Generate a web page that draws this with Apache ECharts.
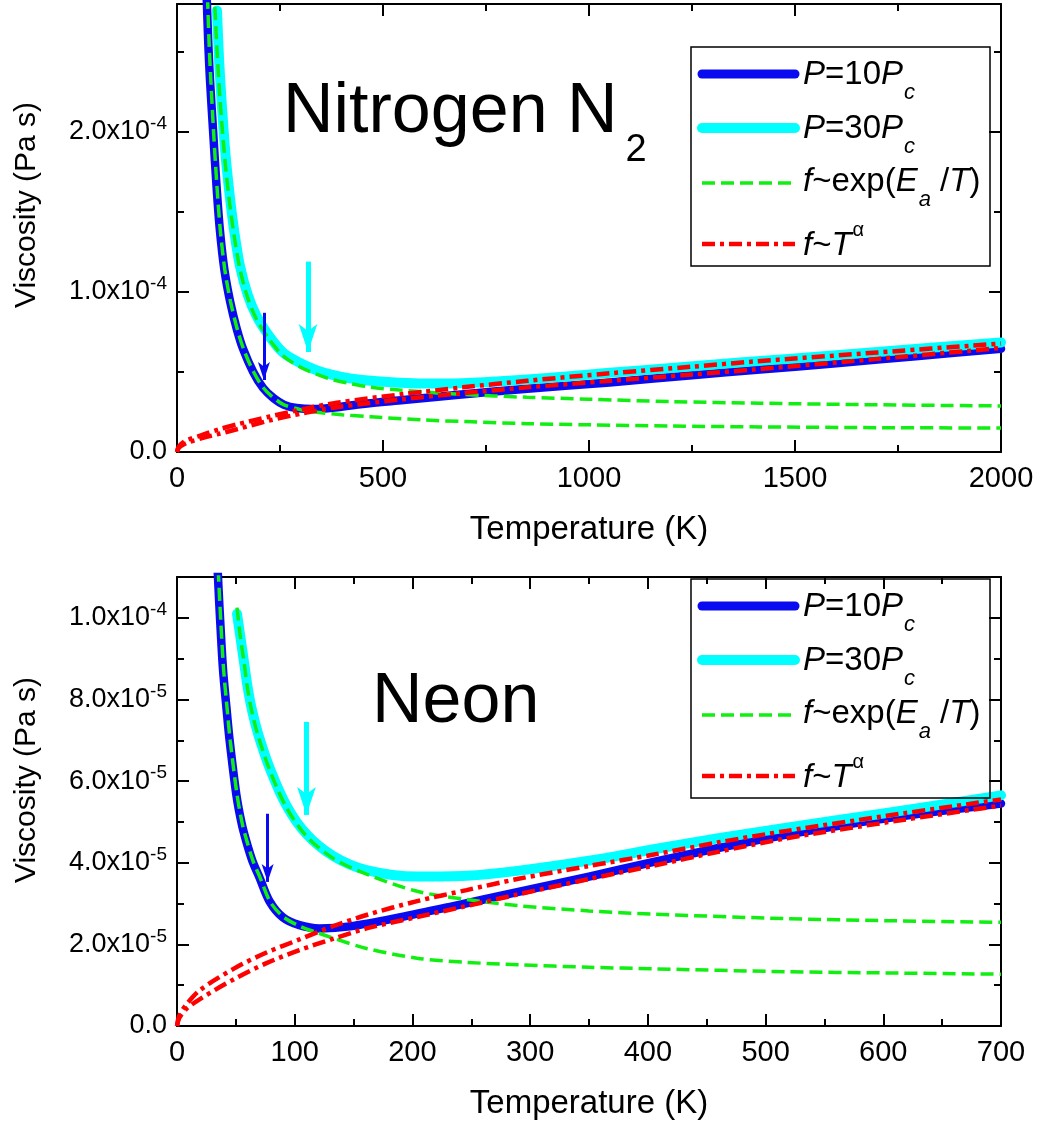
<!DOCTYPE html>
<html><head><meta charset="utf-8">
<script src="https://cdn.jsdelivr.net/npm/echarts/dist/echarts.min.js"></script>
<style>html,body{margin:0;padding:0;background:#fff}#c{width:1039px;height:1124px}</style>
</head><body><div id="c"></div>
<script>
// Temperature in K, viscosity in units of 1e-5 Pa s
const n2_P10 = [[72,28.5],[76,25.5],[80,23.3],[88,19.9],[96,16.6],[104,13.9],[115,11.4],[129,9.4],[145,7.7],[161,6.4],[185,5.0],[209,4.0],[235,3.35],[260,2.95],[290,2.75],[330,2.68],[390,2.8],[450,3.0],[550,3.25],[690,3.6],[850,3.95],[1050,4.35],[1250,4.8],[1415,5.15],[1600,5.55],[1800,6.0],[2000,6.45]];
const n2_P30 = [[97,27.6],[102,24.6],[108,22.0],[118,18.5],[129,15.8],[140,13.6],[153,11.6],[172,9.8],[193,8.5],[225,7.2],[258,6.2],[300,5.55],[340,5.1],[380,4.8],[420,4.6],[470,4.45],[540,4.33],[600,4.28],[665,4.28],[785,4.42],[900,4.62],[1050,4.95],[1200,5.25],[1366,5.6],[1500,5.85],[1700,6.25],[2000,6.85]];
const n2_exp10 = [[74,28.5],[78,25.5],[82,23.3],[89,19.9],[97,16.6],[105,13.9],[116,11.4],[130,9.4],[146,7.7],[162,6.4],[186,5.0],[210,4.0],[236,3.35],[260,2.95],[300,2.65],[350,2.45],[400,2.33],[470,2.2],[600,2.0],[700,1.9],[850,1.77],[1000,1.7],[1200,1.62],[1415,1.57],[1700,1.52],[2000,1.5]];
const n2_exp30 = [[92,27.8],[97,25.2],[102,23.0],[108,20.8],[118,17.8],[129,15.3],[140,13.3],[153,11.4],[172,9.6],[193,8.3],[225,7.0],[258,6.0],[300,5.3],[340,4.85],[380,4.5],[420,4.28],[470,4.05],[540,3.87],[600,3.75],[690,3.6],[850,3.42],[1000,3.3],[1200,3.15],[1415,3.05],[1700,2.95],[2000,2.88]];
const n2_pow10 = [[0,0],[3,0.2],[10,0.38],[25,0.58],[63,0.88],[100,1.12],[145,1.42],[226,1.98],[306,2.42],[388,2.8],[549,3.3],[694,3.68],[850,4.04],[1051,4.45],[1250,4.85],[1398,5.15],[1700,5.82],[2000,6.5]];
const n2_pow30 = [[0,0],[3,0.28],[10,0.5],[25,0.75],[63,1.08],[100,1.4],[145,1.72],[226,2.22],[306,2.68],[388,3.08],[549,3.62],[694,4.04],[850,4.45],[1051,4.92],[1250,5.33],[1398,5.65],[1700,6.22],[2000,6.78]];
// arrows: temperature, start value, tip value
const n2_arrows = [{kind:'P10', T:211, from:8.7, to:4.5}, {kind:'P30', T:318, from:11.9, to:6.25}];

const ne_P10 = [[34.5,11.2],[36,10.3],[39,8.77],[42,7.8],[44.7,7.0],[50.4,5.67],[55,4.95],[58.9,4.52],[64,4.05],[70.2,3.63],[78.7,3.05],[90,2.66],[104,2.47],[121,2.39],[147,2.44],[189,2.66],[232,2.92],[289,3.28],[350,3.66],[405,4.02],[460,4.36],[518,4.69],[603,5.09],[700,5.45]];
const ne_P30 = [[51,10.1],[53.5,9.6],[57,8.9],[60,8.3],[64,7.7],[69,7.15],[79,6.3],[93,5.4],[110,4.7],[133,4.16],[161,3.82],[204,3.66],[246,3.68],[289,3.8],[350,4.05],[405,4.33],[460,4.6],[518,4.86],[603,5.22],[700,5.65]];
const ne_exp10 = [[35,11.2],[36.5,10.3],[39.5,8.77],[42.5,7.8],[45.2,7.0],[51,5.67],[55.5,4.95],[59.5,4.52],[64.5,4.05],[70.7,3.63],[79,3.05],[90,2.68],[104,2.45],[118,2.3],[133,2.15],[161,1.9],[204,1.66],[246,1.56],[290,1.5],[350,1.44],[405,1.4],[518,1.33],[603,1.3],[700,1.27]];
const ne_exp30 = [[51,10.25],[53.5,9.6],[57,8.9],[60,8.25],[64,7.65],[69,7.1],[79,6.25],[93,5.35],[110,4.65],[133,4.1],[161,3.72],[204,3.3],[246,3.1],[289,2.95],[350,2.82],[405,2.74],[518,2.63],[603,2.58],[700,2.54]];
const ne_pow10 = [[0,0],[2,0.2],[8,0.42],[19.5,0.66],[48,1.14],[76,1.54],[104,1.86],[133,2.14],[161,2.39],[204,2.67],[246,2.94],[289,3.22],[350,3.6],[405,3.93],[460,4.27],[518,4.6],[603,4.99],[700,5.4]];
const ne_pow30 = [[0,0],[2,0.26],[8,0.53],[19.5,0.88],[48,1.4],[76,1.8],[104,2.12],[133,2.45],[161,2.72],[204,3.06],[246,3.33],[289,3.6],[350,3.92],[405,4.2],[460,4.5],[518,4.78],[603,5.15],[700,5.55]];
const ne_arrows = [{kind:'P10', T:77, from:5.2, to:3.53}, {kind:'P30', T:110, from:7.45, to:5.17}];

const n2_axis = {xMax:2000, xMajor:500, yMax:28, yMajor:10, yMinor:5};
const ne_axis = {xMax:700, xMajor:100, yMax:11, yMajor:2, yMinor:1};

const FONT = '"Liberation Sans", Arial, Helvetica, sans-serif';
const BLUE = '#0a0af0', CYAN = '#00ffff', GREEN = '#11ee11', RED = '#ff0000';

const panels = [
  {axis:n2_axis, grid:{left:177, right:38, top:4, height:448},
   data:{P10:n2_P10, P30:n2_P30, exp10:n2_exp10, exp30:n2_exp30, pow10:n2_pow10, pow30:n2_pow30}, arrows:n2_arrows,
   title:{text:'{b|Nitrogen N}{s|2}', x:283, y:113}, legendTop:47, yTitleY:205, xTitleY:530},
  {axis:ne_axis, grid:{left:177, right:38, top:577, height:449},
   data:{P10:ne_P10, P30:ne_P30, exp10:ne_exp10, exp30:ne_exp30, pow10:ne_pow10, pow30:ne_pow30}, arrows:ne_arrows,
   title:{text:'{b|Neon}', x:372, y:703}, legendTop:579, yTitleY:780, xTitleY:1104}
];

function sciLabel(major) {
  return function (v) {
    if (Math.abs(v) < 1e-9) return '0.0';
    if (Math.abs(v / major - Math.round(v / major)) > 1e-6) return '';
    const real = v * 1e-5;
    const e = Math.floor(Math.log10(real) + 1e-9);
    const m = real / Math.pow(10, e);
    return '{m|' + m.toFixed(1) + 'x10}{e|' + e + '}';
  };
}

const tickStyle = {color:'#000', width:2};
const grids = [], xAxes = [], yAxes = [], series = [], graphics = [];

panels.forEach(function (p, g) {
  const a = p.axis;
  grids.push(p.grid);
  ['bottom','top'].forEach(function (pos, k) {
    xAxes.push({
      gridIndex:g, type:'value', position:pos, min:0, max:a.xMax, interval:a.xMajor,
      axisLine:{show:true, onZero:false, lineStyle:{color:'#000', width:2}},
      axisTick:{show:true, inside:true, length:12, lineStyle:tickStyle},
      minorTick:{show:true, splitNumber:2, length:7, lineStyle:tickStyle},
      axisLabel:{show:k === 0, margin:12, color:'#000', fontSize:29, fontFamily:FONT,
        formatter:function (v) { return String(Math.round(v)); }},
      splitLine:{show:false}, minorSplitLine:{show:false}
    });
  });
  [['left',true],['left',false],['right',true],['right',false]].forEach(function (d, k) {
    const major = d[1];
    yAxes.push({
      gridIndex:g, type:'value', position:d[0], min:0, max:a.yMax, interval: major ? a.yMajor : a.yMinor,
      axisLine:{show:major, onZero:false, lineStyle:{color:'#000', width:2}},
      axisTick:{show:true, inside:true, length: major ? 12 : 7, lineStyle:tickStyle},
      axisLabel:{show:k === 0, margin:10, color:'#000', fontFamily:FONT, fontSize:27,
        formatter:sciLabel(a.yMajor),
        rich:{m:{fontSize:27, fontFamily:FONT, color:'#000'},
              e:{fontSize:19, fontFamily:FONT, color:'#000', padding:[0,0,16,0]}}},
      splitLine:{show:false}
    });
  });
  const xi = 2 * g, yi = 4 * g;
  function arrowLine(kind, color, width, size) {
    const arr = p.arrows.filter(function (r) { return r.kind === kind; });
    return {
      silent:true, animation:false, symbol:['none','arrow'], symbolSize:size,
      label:{show:false}, emphasis:{disabled:true},
      lineStyle:{color:color, width:width, type:'solid', opacity:1},
      data: arr.map(function (r) { return [{coord:[r.T, r.from]}, {coord:[r.T, r.to]}]; })
    };
  }
  const base = {type:'line', xAxisIndex:xi, yAxisIndex:yi, showSymbol:false, symbol:'none',
    smooth:0.3, animation:false, silent:true, clip:true};
  series.push(Object.assign({}, base, {name:'P=10Pc', z:2, data:p.data.P10,
    lineStyle:{color:BLUE, width:8.5, cap:'round', join:'round'}, markLine:arrowLine('P10', BLUE, 3, [9,18])}));
  series.push(Object.assign({}, base, {name:'P=30Pc', z:3, data:p.data.P30,
    lineStyle:{color:CYAN, width:10, cap:'round', join:'round'}, markLine:arrowLine('P30', CYAN, 5, [14,28])}));
  series.push(Object.assign({}, base, {name:'exp10', z:4, data:p.data.exp10,
    lineStyle:{color:GREEN, width:3.5, type:[13,6]}}));
  series.push(Object.assign({}, base, {name:'exp30', z:4, data:p.data.exp30,
    lineStyle:{color:GREEN, width:3.5, type:[13,6]}}));
  series.push(Object.assign({}, base, {name:'pow10', z:5, data:p.data.pow10,
    lineStyle:{color:RED, width:4.5, type:[13,5,4,5]}}));
  series.push(Object.assign({}, base, {name:'pow30', z:5, data:p.data.pow30,
    lineStyle:{color:RED, width:4.5, type:[13,5,4,5]}}));

  graphics.push({type:'text', x:p.title.x, y:p.title.y, z:10, style:{
    text:p.title.text, align:'left', verticalAlign:'middle', textAlign:'left', textVerticalAlign:'middle',
    rich:{b:{font:'70px ' + FONT, fill:'#000'}, s:{font:'38px ' + FONT, fill:'#000', padding:[76,0,0,8]}}}});
  graphics.push({type:'text', x:27, y:p.yTitleY, rotation:Math.PI / 2, z:10, style:{
    text:'Viscosity (Pa s)', font:'30px ' + FONT, fill:'#000', align:'center', verticalAlign:'middle',
    textAlign:'center', textVerticalAlign:'middle'}});
  graphics.push({type:'text', x:589, y:p.xTitleY, z:10, style:{
    text:'Temperature (K)', font:'33px ' + FONT, fill:'#000', align:'center', verticalAlign:'middle',
    textAlign:'center', textVerticalAlign:'middle'}});
  const t = p.legendTop;
  graphics.push({type:'rect', z:10, shape:{x:691, y:t, width:299, height:219},
    style:{fill:'none', stroke:'#000', lineWidth:1.5}});
  const rows = [
    {dy:27, ty:27.5, color:BLUE, width:9, dash:null, cap:'round', text:'{i|P}{n|=10}{i|P}{sub|c}'},
    {dy:81, ty:81.5, color:CYAN, width:10, dash:null, cap:'round', text:'{i|P}{n|=30}{i|P}{sub|c}'},
    {dy:136, ty:134.5, color:GREEN, width:3.5, dash:[13,6], cap:'butt', text:'{i|f}{n|~exp(}{i|E}{sub|a}{n| /}{i|T}{n|)}'},
    {dy:197, ty:198.5, color:RED, width:4.5, dash:[13,5,4,5], cap:'butt', text:'{i|f}{n|~}{i|T}{sup|α}'}
  ];
  rows.forEach(function (r) {
    graphics.push({type:'line', z:10, shape:{x1:702, y1:t + r.dy, x2:795, y2:t + r.dy},
      style:{stroke:r.color, lineWidth:r.width, lineCap:r.cap, lineDash:r.dash}});
    graphics.push({type:'text', z:10, x:803, y:t + r.ty, style:{
      text:r.text, align:'left', verticalAlign:'middle', textAlign:'left', textVerticalAlign:'middle',
      rich:{
        n:{font:'33px ' + FONT, fill:'#000'},
        i:{font:'italic 33px ' + FONT, fill:'#000'},
        sub:{font:'italic 22px ' + FONT, fill:'#000', padding:[36,0,0,1]},
        sup:{font:'20px ' + FONT, fill:'#000', padding:[0,0,31,1]}
      }}});
  });
});

const chart = echarts.init(document.getElementById('c'), null, {renderer:'canvas'});
chart.setOption({
  animation:false, backgroundColor:'#fff',
  grid:grids, xAxis:xAxes, yAxis:yAxes, series:series, graphic:{elements:graphics}
});
</script></body></html>
